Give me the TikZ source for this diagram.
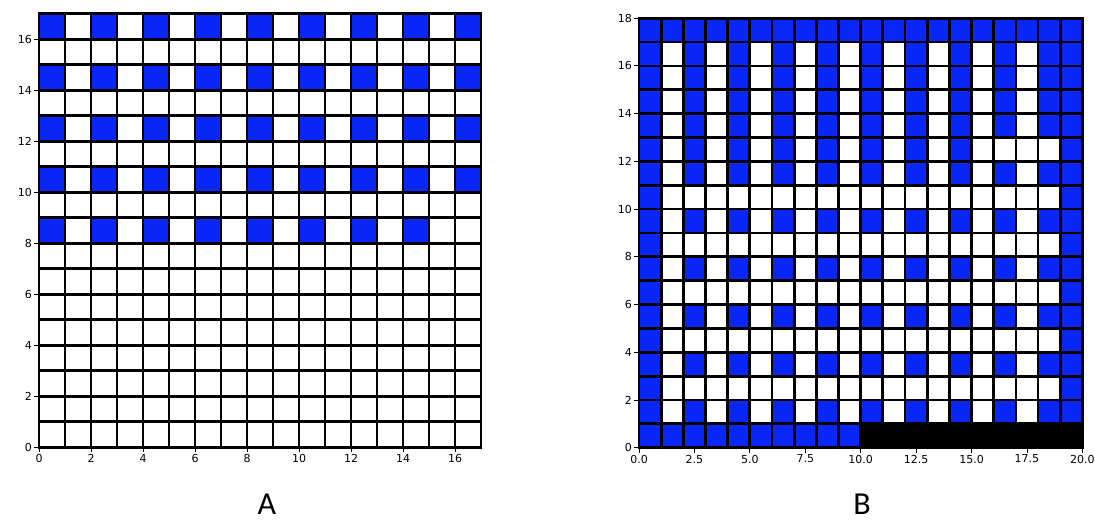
\documentclass[tikz,border=0pt]{standalone}
\usepackage{fontspec}
\setmainfont{DejaVu Sans}
\newfontfamily\panelfont{Carlito}
\definecolor{cellblue}{RGB}{8,38,245}
\tikzset{
  gridline/.style={line width=2.8pt, draw=black, line cap=rect},
  tickmark/.style={line width=0.9pt, draw=black},
  ticklabel/.style={font=\fontsize{11}{11}\selectfont, inner sep=1pt},
  panellabel/.style={font=\panelfont\fontsize{32}{32}\selectfont, inner sep=0pt, anchor=base},
}
\begin{document}
\begin{tikzpicture}[x=1pt,y=1pt]
\useasboundingbox (0,0) rectangle (1095,522);
% ---------------- Panel A ----------------
\begin{scope}[shift={(39,74.7)}, x=26pt, y=25.5pt]
  \foreach \r in {10,12,14,16}
    \foreach \c in {0,2,...,16}
      \fill[cellblue] (\c,\r) rectangle ++(1,1);
  \foreach \c in {0,2,...,14}
    \fill[cellblue] (\c,8) rectangle ++(1,1);
  \foreach \i in {0,...,17} {
    \draw[gridline] (\i,0) -- (\i,17);
    \draw[gridline] (0,\i) -- (17,\i);
  }
  \foreach \v in {0,2,...,16} {
    \draw[tickmark] (\v,0) -- ++(0,-5pt);
    \node[ticklabel, anchor=north] (ax\v) at ([yshift=-6pt]\v,0) {\v};
    \draw[tickmark] (0,\v) -- ++(-5pt,0);
    \node[ticklabel, anchor=east] (ay\v) at ([xshift=-6pt]0,\v) {\v};
  }
\end{scope}
\node[panellabel] (labA) at (267,7) {A};
% ---------------- Panel B ----------------
\begin{scope}[shift={(639,74.3)}, x=22.17pt, y=23.86pt]
  \foreach \r in {1,3,5,7,9,11,12,13,14,15,16}
    \foreach \c in {2,4,...,18}
      \fill[cellblue] (\c,\r) rectangle ++(1,1);
  \fill[white] (16,12) rectangle ++(1,1);
  \fill[white] (18,12) rectangle ++(1,1);
  \fill[cellblue] (0,0) rectangle (1,18);
  \fill[cellblue] (19,1) rectangle (20,18);
  \fill[cellblue] (0,17) rectangle (20,18);
  \fill[cellblue] (0,0) rectangle (10,1);
  \foreach \i in {0,...,20}
    \draw[gridline] (\i,0) -- (\i,18);
  \foreach \i in {0,...,18}
    \draw[gridline] (0,\i) -- (20,\i);
  \fill[black] (10,0) rectangle (20,1);
  \foreach \k/\lab in {0/0.0,1/2.5,2/5.0,3/7.5,4/10.0,5/12.5,6/15.0,7/17.5,8/20.0} {
    \draw[tickmark] ({2.5*\k},0) -- ++(0,-5pt);
    \node[ticklabel, anchor=north] (bx\k) at ([yshift=-6pt]{2.5*\k},0) {\lab};
  }
  \foreach \v in {0,2,...,18} {
    \draw[tickmark] (0,\v) -- ++(-5pt,0);
    \node[ticklabel, anchor=east] (by\v) at ([xshift=-6pt]0,\v) {\v};
  }
\end{scope}
\node[panellabel] (labB) at (862,7) {B};
\end{tikzpicture}
\end{document}
